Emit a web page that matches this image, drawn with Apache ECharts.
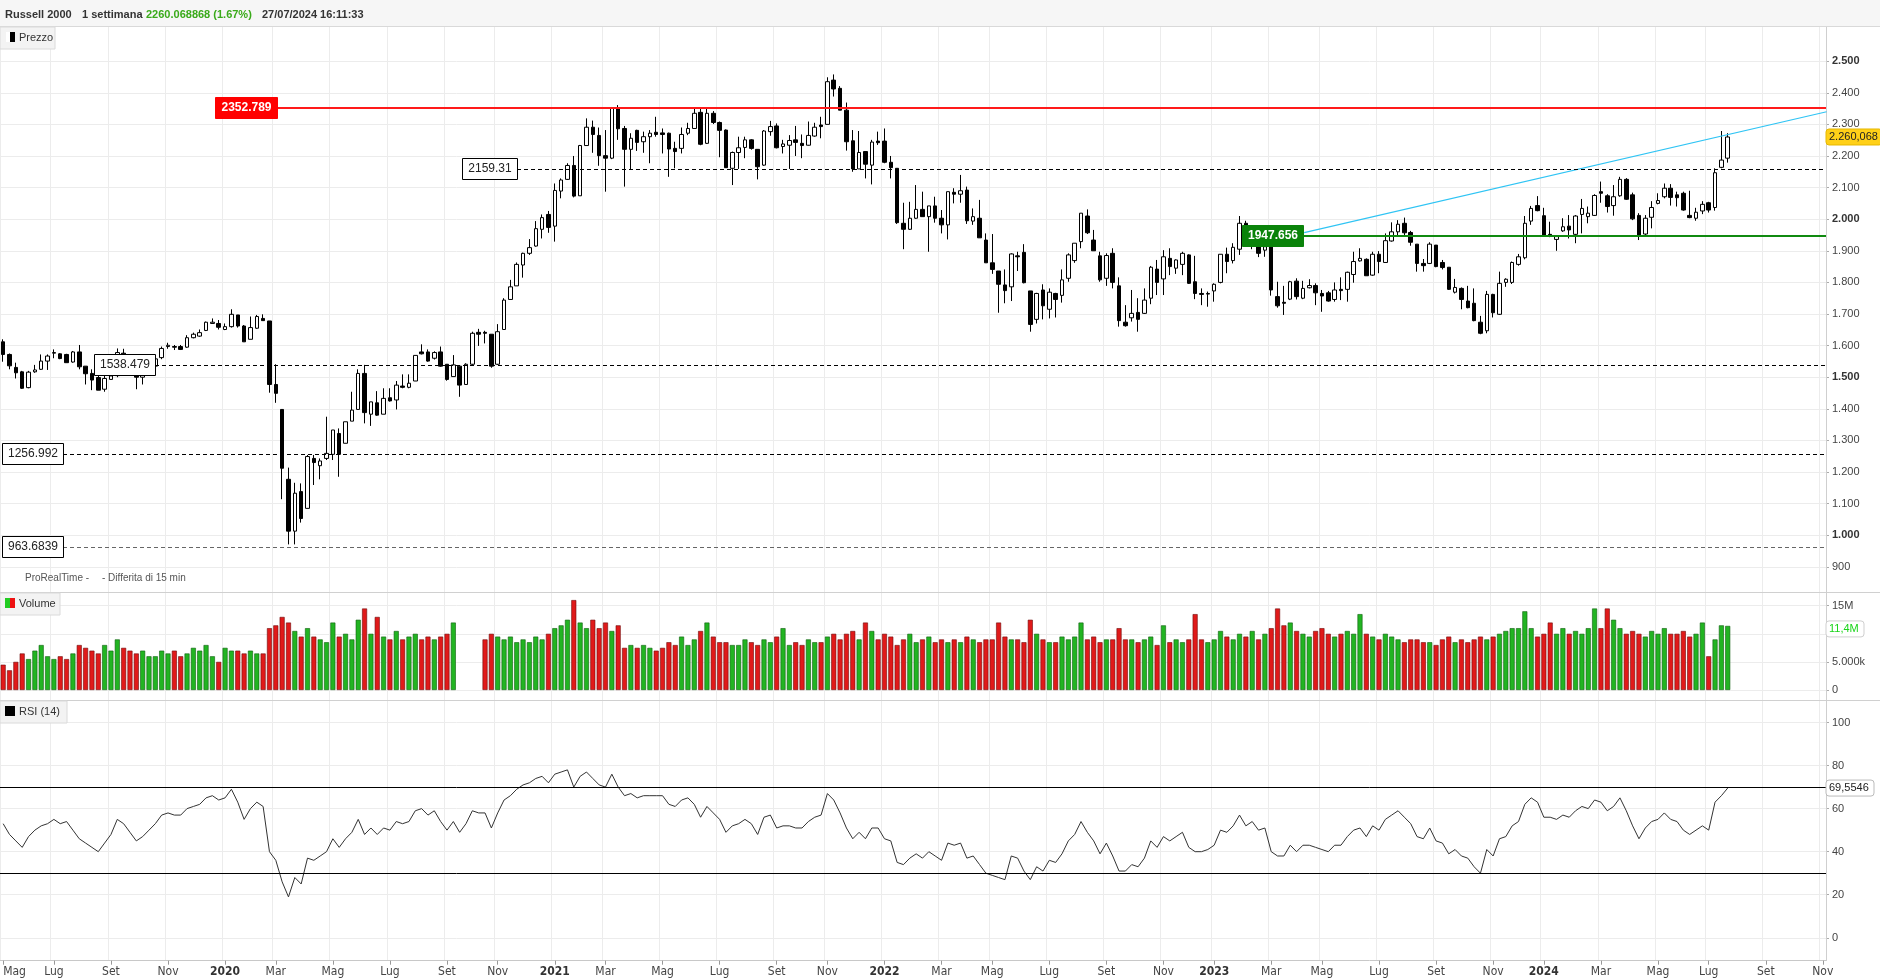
<!DOCTYPE html>
<html><head><meta charset="utf-8">
<script src="https://cdn.jsdelivr.net/npm/echarts@6/dist/echarts.min.js"></script>
<style>html,body{margin:0;padding:0;background:#fff;}#chart{width:1880px;height:979px;}</style>
</head><body><div id="chart"></div>
<script>
// ---------- DATA ----------
const firstWeek = '2019-05-06';
const totalWeeks = 288; // weekly slots shown on the axis (data + empty space up to Nov 2024)
const monthNames = ['Gen','Feb','Mar','Apr','Mag','Giu','Lug','Ago','Set','Ott','Nov','Dic'];
// weekly candles: [open, close, low, high]
const candles = [
[1612,1572,1549,1620],[1572,1536,1525,1575],[1531,1514,1496,1546],[1517,1465,1463,1520],[1467,1516,1465,1520],
[1517,1523,1514,1539],[1525,1551,1523,1572],[1551,1567,1523,1572],[1576,1578,1560,1588],[1574,1559,1557,1576],
[1572,1546,1546,1574],[1548,1580,1546,1583],[1580,1533,1525,1602],[1535,1511,1477,1535],[1512,1491,1459,1525],
[1499,1459,1459,1504],[1462,1496,1454,1504],[1493,1504,1493,1544],[1505,1578,1500,1591],[1576,1562,1552,1590],
[1562,1523,1515,1568],[1523,1500,1462,1530],[1500,1510,1477,1525],[1510,1535,1505,1545],[1535,1558,1530,1562],
[1562,1591,1557,1597],[1597,1601,1590,1609],[1597,1595,1586,1602],[1597,1588,1586,1602],[1595,1625,1593,1633],
[1625,1636,1623,1641],[1630,1641,1628,1651],[1648,1674,1646,1676],[1670,1674,1670,1686],[1670,1658,1651,1681],
[1651,1660,1649,1670],[1660,1699,1657,1715],[1697,1662,1657,1697],[1662,1612,1612,1665],[1620,1657,1620,1692],
[1655,1692,1653,1697],[1686,1679,1679,1699],[1678,1477,1451,1678],[1477,1449,1419,1541],[1398,1212,1114,1398],
[1177,1013,971,1214],[1013,1133,971,1166],[1138,1053,1040,1164],[1085,1249,1085,1254],[1243,1230,1159,1254],
[1220,1235,1177,1243],[1243,1259,1238,1375],[1256,1333,1238,1333],[1322,1256,1185,1338],[1291,1359,1291,1359],
[1361,1396,1361,1454],[1398,1512,1398,1525],[1512,1388,1354,1539],[1383,1422,1346,1422],[1419,1380,1378,1456],
[1383,1433,1383,1465],[1435,1425,1423,1465],[1428,1475,1398,1488],[1472,1468,1465,1509],[1468,1481,1465,1509],
[1488,1569,1488,1569],[1580,1574,1572,1604],[1580,1551,1549,1588],[1560,1578,1556,1582],[1580,1535,1533,1597],
[1541,1493,1489,1541],[1502,1539,1502,1570],[1535,1475,1438,1535],[1477,1541,1477,1544],[1541,1639,1539,1644],
[1642,1636,1599,1653],[1642,1639,1607,1647],[1636,1535,1530,1636],[1541,1644,1539,1668],[1651,1744,1651,1750],
[1746,1786,1746,1808],[1789,1857,1789,1863],[1855,1892,1815,1894],[1892,1910,1887,1937],[1915,1970,1913,1994],
[1968,2005,1939,2015],[2015,1974,1957,2026],[1978,2091,1929,2113],[2089,2124,2066,2129],[2126,2170,2124,2177],
[2170,2073,2069,2200],[2074,2233,2074,2235],[2233,2291,2233,2319],[2291,2268,2210,2312],[2265,2201,2169,2290],
[2201,2193,2087,2282],[2193,2353,2190,2355],[2353,2286,2251,2361],[2287,2221,2103,2295],[2221,2256,2156,2272],
[2281,2243,2216,2283],[2245,2261,2210,2277],[2261,2272,2177,2282],[2275,2268,2261,2324],[2273,2268,2208,2287],
[2272,2222,2134,2274],[2224,2214,2161,2245],[2224,2268,2208,2290],[2272,2287,2266,2305],[2287,2335,2287,2351],
[2338,2237,2234,2351],[2240,2335,2238,2351],[2335,2306,2301,2342],[2306,2281,2196,2309],[2282,2163,2163,2284],
[2161,2211,2108,2214],[2211,2226,2159,2261],[2227,2251,2193,2261],[2251,2224,2220,2253],[2221,2166,2126,2222],
[2171,2279,2169,2282],[2277,2293,2264,2311],[2295,2226,2224,2303],[2230,2238,2208,2251],[2234,2249,2159,2266],
[2251,2243,2200,2295],[2240,2233,2193,2268],[2234,2265,2233,2309],[2263,2291,2261,2305],[2298,2293,2256,2324],
[2300,2435,2300,2449],[2440,2412,2388,2458],[2414,2345,2345,2421],[2345,2245,2217,2369],[2248,2159,2150,2282],
[2159,2211,2159,2279],[2214,2174,2129,2214],[2171,2244,2110,2251],[2247,2242,2235,2277],[2247,2180,2177,2287],
[2180,2163,2129,2200],[2161,1989,1985,2161],[1987,1968,1905,2052],[1968,2003,1966,2055],[2003,2031,2001,2108],
[2031,2008,2008,2087],[2008,2042,1897,2042],[2042,2003,1989,2071],[2003,1982,1955,2029],[1982,2087,1936,2087],
[2085,2079,2050,2098],[2079,2090,2052,2140],[2092,1995,1985,2103],[1994,2008,1982,2034],[2003,1941,1941,2061],
[1934,1862,1862,1955],[1862,1841,1827,1953],[1836,1794,1704,1836],[1792,1774,1734,1841],[1786,1890,1741,1892],
[1884,1881,1836,1897],[1895,1799,1797,1921],[1773,1667,1644,1773],[1683,1765,1670,1767],[1776,1726,1683,1794],
[1715,1769,1686,1781],[1765,1746,1689,1767],[1759,1808,1736,1841],[1813,1887,1802,1892],[1869,1924,1862,1924],
[1929,2019,1908,2019],[2010,1957,1953,2031],[1934,1900,1900,1966],[1884,1808,1802,1897],[1813,1885,1789,1892],
[1892,1800,1781,1908],[1789,1679,1660,1816],[1674,1663,1660,1728],[1688,1702,1676,1776],[1705,1683,1644,1750],
[1702,1744,1700,1781],[1750,1848,1731,1852],[1842,1800,1760,1871],[1811,1881,1760,1902],[1876,1850,1823,1908],
[1845,1871,1827,1873],[1857,1892,1823,1897],[1887,1797,1795,1889],[1802,1765,1747,1884],[1765,1762,1728,1781],
[1763,1765,1723,1771],[1773,1794,1739,1797],[1800,1889,1797,1889],[1889,1866,1829,1910],[1869,1911,1860,1924],
[1905,1987,1887,2010],[1987,1920,1915,1995],[1920,1946,1905,1960],[1913,1892,1880,1925],[1902,1913,1881,1930],
[1945,1776,1758,1950],[1755,1726,1720,1802],[1737,1734,1697,1789],[1747,1802,1744,1805],[1804,1755,1746,1813],
[1750,1781,1747,1805],[1783,1790,1781,1810],[1790,1767,1728,1797],[1765,1757,1707,1776],[1767,1741,1739,1773],
[1746,1776,1739,1800],[1778,1774,1744,1816],[1778,1832,1739,1834],[1825,1866,1799,1897],[1868,1876,1866,1908],
[1873,1821,1821,1876],[1823,1889,1821,1897],[1889,1866,1829,1899],[1863,1932,1863,1955],[1931,1960,1929,1990],
[1960,1984,1950,1997],[1987,1957,1950,2005],[1958,1927,1916,1963],[1921,1860,1834,1921],[1860,1853,1834,1874],
[1860,1921,1858,1927],[1918,1850,1848,1918],[1863,1847,1841,1871],[1848,1778,1776,1848],[1769,1784,1765,1811],
[1781,1746,1715,1784],[1741,1720,1718,1789],[1734,1679,1677,1781],[1674,1639,1636,1694],[1647,1762,1639,1773],
[1762,1704,1689,1764],[1699,1797,1697,1834],[1800,1810,1786,1813],[1800,1863,1795,1866],[1857,1881,1853,1890],
[1878,1987,1873,2010],[1994,2034,1982,2042],[2043,2027,2025,2073],[2011,1950,1945,2036],[1952,1948,1943,1992],
[1936,1945,1900,1950],[1963,1976,1960,2003],[1978,1966,1939,2013],[1952,2010,1924,2013],[2015,2034,1955,2064],
[2008,2019,1987,2040],[2012,2075,2010,2079],[2087,2082,2052,2119],[2074,2040,2021,2079],[2043,2071,2011,2108],
[2074,2126,2071,2134],[2126,2063,2061,2130],[2077,2001,1997,2084],[2012,1950,1934,2019],[1953,2003,1950,2013],
[2006,2037,1971,2057],[2050,2059,2047,2082],[2071,2098,2066,2113],[2098,2069,2043,2111],[2077,2068,2040,2087],
[2082,2029,2027,2087],[2012,2005,2003,2090],[2003,2022,1995,2036],[2026,2047,2016,2057],[2052,2029,2021,2055],
[2037,2147,2027,2161],[2164,2187,2161,2279],[2193,2260.068868,2179,2272]
];
// weekly volume, millions
const volumes = [
4.5,3.5,5,6.5,5.5,7,8,6,5.5,6, 5.5,6.5,8,7.5,7,6.5,8,7,9,7.5, 7,6.5,7,6,6,7,6.5,7,6,6.5,
7.5,7,8,6,5,7.5,7,7,6.5,7, 6.5,6.5,11,11.5,13,12,10.5,9.5,11,9.5, 9,8.5,12,9.5,10,9,12.5,14.5,10,13,
9.5,9,10.5,9,9.5,10,9,9.5,9,9.5, 10,12,null,null,null,null,9,10,9.5,9, 9.5,8.5,9,8.5,9.5,9,10,11,11.5,12.5,
16,12,11,12.5,11,12,10.5,11.5,7.5,8, 7.5,8,7.5,7,7.5,8.5,8,9.5,8,9, 10.5,12,9.5,8.5,8.5,8,8,9,8.5,8,
9,8.5,9.5,11,8,8.5,8,9,8.5,8.5, 9.5,10,9,10,10.5,9,12,10.5,9,10, 9.5,8,9,10,8.5,9,9.5,8.5,9,8.5,
9,8.5,9.5,9,8.5,9,9,12,9.5,9, 9,8.5,12.5,10,9,8.5,8.5,9.5,9,9.5, 12,9,9.5,8.5,9,9,11,9,9,8.5,
9,9.5,8,11.5,8.5,9,8.5,9,13.5,9, 8.5,9,10.5,9.5,9,10,9.5,10.5,9,10, 11,14.5,11.5,12,10.5,10,9.5,10.5,11,10,
9.5,10,10.5,10,13.5,10,9.5,9,10,9.5, 9,8.5,9,9,8.5,8.5,8,9,9.5,8.5, 9,8.5,9,9.5,9,9.5,10,10.5,11,11,
14,11,9.5,10,12,10,11,10,10.5,10, 11,14.5,11,14.5,12.5,11,10,10.5,10,9.5, 10.5,10,11,10,10,10.5,9.5,10,12,6,
9,11.5,11.4
];
// RSI(14) weekly
const rsi = [
53,48,45,42,47,50,52,53,55,53, 54,50,46,44,42,40,44,48,55,53, 49,45,47,50,53,57,58,57,57,60,
61,62,65,66,64,65,69,63,55,60, 63,61,40,36,26,19,28,25,37,36, 38,40,46,42,46,49,55,48,51,48,
51,50,54,53,54,59,60,57,59,54, 50,54,49,53,59,58,58,51,58,64, 66,69,71,72,74,75,72,76,77,78,
70,75,77,74,71,70,76,70,66,67, 65,66,66,66,66,62,61,64,65,62, 56,61,58,55,49,52,53,55,53,48,
56,57,51,52,52,51,51,54,56,57, 67,64,58,51,46,49,46,51,51,46, 45,35,34,37,39,37,40,38,36,44,
43,44,37,38,34,30,29,28,27,38, 37,31,27,33,31,36,35,39,45,48, 54,49,45,39,44,38,31,31,34,33,
37,45,42,47,45,47,49,42,40,40, 41,43,50,49,52,57,52,54,50,51, 40,38,38,43,40,43,43,42,41,40,
43,43,47,50,51,47,52,50,55,57, 59,56,53,47,46,51,45,44,39,41, 38,37,33,30,41,38,46,47,52,54,
62,65,63,56,56,55,57,56,59,61, 60,64,63,59,61,65,59,52,46,51, 54,55,58,55,54,50,48,50,52,50,
63,66,69.5546
];
// horizontal levels drawn on the price panel
const levelValues = [2352.789, 2159.31, 1538.479, 1256.992, 963.6839, 1947.656];
const levelTexts  = ['2352.789','2159.31','1538.479','1256.992','963.6839','1947.656'];
// trend line anchors: [week index, price]
const trendFrom = [205.2, 1957.6];
const trendTo   = [287.6, 2340.0];
const lastPrice = 2260.068;
const lastVolume = 11.4;
const lastRsi = 69.5546;
const rsiBands = [70, 30];

// ---------- BUILD ----------
const FONT = "'Liberation Sans', Arial, sans-serif";
const NARROW = "'Liberation Sans Narrow','Arial Narrow','DejaVu Sans Condensed', sans-serif";
const dates = [];
const t0 = Date.UTC(2019, 4, 6);
for (let i = 0; i < totalWeeks; i++) dates.push(new Date(t0 + i * 7 * 86400000).toISOString().slice(0, 10));
const tickSet = new Set();
for (let i = 0; i < dates.length; i++) {
  const m = +dates[i].slice(5, 7) - 1;
  const pm = i ? +dates[i - 1].slice(5, 7) - 1 : -1;
  if (m !== pm && m % 2 === 0) tickSet.add(i);
}
const tickFn = (idx) => tickSet.has(idx);
const fmtThousands = v => v >= 1000 ? Math.floor(v / 1000) + '.' + String(v % 1000).padStart(3, '0') : String(v);

const LEFT = 0, RIGHT = 54;
const chart = echarts.init(document.getElementById('chart'), null, {renderer: 'canvas'});

const hiddenX = (gi) => ({type: 'category', gridIndex: gi, data: dates, boundaryGap: true, show: false});
const gridBase = {left: LEFT, right: RIGHT, containLabel: false, outerBoundsMode: 'none'};
const option = {
  animation: false,
  backgroundColor: '#ffffff',
  grid: [
    Object.assign({top: 29.55, height: 568.9}, gridBase),
    Object.assign({top: 577.6, height: 112.4}, gridBase),
    Object.assign({top: 722.5, height: 215.3}, gridBase),
    Object.assign({top: 27, bottom: 18.3}, gridBase)
  ],
  xAxis: [
    hiddenX(0), hiddenX(1), hiddenX(2),
    {
      type: 'category', gridIndex: 3, data: dates, boundaryGap: true, position: 'bottom',
      axisLine: {show: true, lineStyle: {color: '#c8c8c8'}},
      axisTick: {show: true, interval: tickFn, alignWithLabel: true, length: 4, lineStyle: {color: '#999'}},
      axisLabel: {
        show: true, interval: tickFn, color: '#444', fontSize: 12, fontFamily: NARROW, margin: 5,
        alignMinLabel: 'left', hideOverlap: false,
        formatter: (val) => { const m = +val.slice(5, 7) - 1; return m === 0 ? '{y|' + val.slice(0, 4) + '}' : monthNames[m]; },
        rich: {y: {fontWeight: 'bold', color: '#333', fontSize: 12, fontFamily: NARROW}}
      },
      splitLine: {show: true, interval: tickFn, lineStyle: {color: '#ececec', width: 1}}
    }
  ],
  yAxis: [
    {
      type: 'value', gridIndex: 0, position: 'right', min: 800, max: 2600, interval: 100,
      axisLine: {show: false}, axisTick: {show: true, length: 3, lineStyle: {color: '#aaa'}},
      axisLabel: {showMinLabel: false, showMaxLabel: false, color: '#444', fontSize: 11, fontFamily: FONT, margin: 6,
        formatter: v => v % 500 === 0 ? '{b|' + fmtThousands(v) + '}' : fmtThousands(v),
        rich: {b: {fontWeight: 'bold', color: '#333', fontSize: 11, fontFamily: FONT}}},
      splitLine: {show: true, showMinLine: false, showMaxLine: false, lineStyle: {color: '#ececec'}}
    },
    {
      type: 'value', gridIndex: 1, position: 'right', min: 0, max: 20, interval: 5,
      axisLine: {show: false}, axisTick: {show: true, length: 3, lineStyle: {color: '#aaa'}},
      axisLabel: {showMaxLabel: false, color: '#444', fontSize: 11, fontFamily: FONT, margin: 6,
        formatter: v => v === 0 ? '0' : (v === 5 ? '5.000k' : v + 'M')},
      splitLine: {show: true, showMaxLine: false, lineStyle: {color: '#ececec'}}
    },
    {
      type: 'value', gridIndex: 2, position: 'right', min: 0, max: 100, interval: 20,
      axisLine: {show: false}, axisTick: {show: true, length: 3, lineStyle: {color: '#aaa'}},
      axisLabel: {color: '#444', fontSize: 11, fontFamily: FONT, margin: 6},
      splitLine: {show: true, lineStyle: {color: '#ececec'}}
    },
    {type: 'value', gridIndex: 3, show: false}
  ],
  series: [
    {
      type: 'candlestick', xAxisIndex: 0, yAxisIndex: 0, data: candles, barWidth: 4,
      itemStyle: {color: '#ffffff', color0: '#000000', borderColor: '#000000', borderColor0: '#000000', borderWidth: 1}
    },
    {
      type: 'bar', xAxisIndex: 1, yAxisIndex: 1, barWidth: 5,
      data: volumes.map((v, i) => v == null ? null : {
        value: v,
        itemStyle: candles[i][1] >= candles[i][0]
          ? {color: '#22b422', borderColor: '#0d5e0d', borderWidth: 0.6}
          : {color: '#e01a1a', borderColor: '#6e0a0a', borderWidth: 0.6}
      })
    },
    {
      type: 'line', xAxisIndex: 2, yAxisIndex: 2, data: rsi, showSymbol: false, symbol: 'none',
      lineStyle: {color: '#333', width: 1},
      markLine: {silent: true, symbol: 'none', label: {show: false},
        lineStyle: {color: '#000', width: 1, type: 'solid'},
        data: rsiBands.map(v => ({yAxis: v}))}
    }
  ]
};
chart.setOption(option);

// ---------- OVERLAYS (positions via the chart's own scales) ----------
const plotRight = 1880 - RIGHT;
const yP = v => chart.convertToPixel({yAxisIndex: 0}, v);
const yV = v => chart.convertToPixel({yAxisIndex: 1}, v);
const yR = v => chart.convertToPixel({yAxisIndex: 2}, v);
const x0 = chart.convertToPixel({xAxisIndex: 0}, dates[0]);
const x1 = chart.convertToPixel({xAxisIndex: 0}, dates[1]);
const xAt = i => x0 + (x1 - x0) * i;

const g = [];
// header
g.push({type: 'rect', shape: {x: 0, y: 0, width: 1880, height: 26}, style: {fill: '#f6f6f6'}, z: 10});
g.push({type: 'line', shape: {x1: 0, y1: 26.5, x2: 1880, y2: 26.5}, style: {stroke: '#d9d9d9', lineWidth: 1}, z: 11});
const hdr = [
  {x: 5, t: 'Russell 2000', c: '#333'},
  {x: 82, t: '1 settimana', c: '#333'},
  {x: 146, t: '2260.068868 (1.67%)', c: '#3aaa1a'},
  {x: 262, t: '27/07/2024 16:11:33', c: '#333'}
];
hdr.forEach(h => g.push({type: 'text', x: h.x, y: 15, z: 12,
  style: {text: h.t, fill: h.c, font: 'bold 11px ' + FONT, textVerticalAlign: 'middle'}}));

// panel separators and right axis line
[592.5, 700.5].forEach(y => g.push({type: 'line', shape: {x1: 0, y1: y, x2: 1880, y2: y}, style: {stroke: '#d0d0d0', lineWidth: 1}, z: 5}));
g.push({type: 'line', shape: {x1: plotRight + 0.5, y1: 27, x2: plotRight + 0.5, y2: 961}, style: {stroke: '#cfcfcf', lineWidth: 1}, z: 5});

// legend boxes
function legendBox(y, w, label, icon) {
  g.push({type: 'rect', shape: {x: 0, y: y, width: w, height: 22}, style: {fill: '#f3f3f3', stroke: '#dadada', lineWidth: 1}, z: 20});
  icon.forEach(r => g.push({type: 'rect', shape: r.s, style: {fill: r.f}, z: 21}));
  g.push({type: 'text', x: 19, y: y + 11, z: 21, style: {text: label, fill: '#333', font: '11px ' + FONT, textVerticalAlign: 'middle'}});
}
legendBox(27, 55, 'Prezzo', [{s: {x: 6, y: 32, width: 4, height: 10}, f: '#fff'}, {s: {x: 10, y: 32, width: 5, height: 10}, f: '#000'}]);
legendBox(593, 60, 'Volume', [{s: {x: 5, y: 598, width: 5, height: 10}, f: '#22cc22'}, {s: {x: 10, y: 598, width: 5, height: 10}, f: '#ee1111'}]);
legendBox(701, 67, 'RSI (14)', [{s: {x: 5, y: 706, width: 10, height: 10}, f: '#000'}]);

g.push({type: 'text', x: 25, y: 578, z: 20, style: {text: 'ProRealTime -', fill: '#555', font: '10px ' + FONT, textVerticalAlign: 'middle'}});
g.push({type: 'text', x: 102, y: 578, z: 20, style: {text: '- Differita di 15 min', fill: '#555', font: '10px ' + FONT, textVerticalAlign: 'middle'}});

// level lines with their boxes
const levelStyle = [
  {bx: 215, bw: 62, fill: '#ff0000', stroke: '#ff0000', txt: '#fff', bold: true, line: '#ff1a1a', lw: 2, dash: null},
  {bx: 462, bw: 55, fill: '#fff', stroke: '#000', txt: '#222', bold: false, line: '#000', lw: 1, dash: [4, 3]},
  {bx: 94, bw: 61, fill: '#fff', stroke: '#000', txt: '#222', bold: false, line: '#000', lw: 1, dash: [4, 3]},
  {bx: 2, bw: 61, fill: '#fff', stroke: '#000', txt: '#222', bold: false, line: '#000', lw: 1, dash: [4, 3]},
  {bx: 2, bw: 61, fill: '#fff', stroke: '#000', txt: '#222', bold: false, line: '#666', lw: 1, dash: [4, 3]},
  {bx: 1242, bw: 61, fill: '#0a830a', stroke: '#0a830a', txt: '#fff', bold: true, line: '#108a10', lw: 2, dash: null}
];
levelValues.forEach((v, k) => {
  const s = levelStyle[k];
  const y = Math.round(yP(v)) + (s.lw === 1 ? 0.5 : 0);
  g.push({type: 'line', shape: {x1: s.bx + s.bw, y1: y, x2: plotRight, y2: y},
    style: {stroke: s.line, lineWidth: s.lw, lineDash: s.dash}, z: 30});
  g.push({type: 'rect', shape: {x: s.bx + 0.5, y: Math.round(yP(v)) - 10.5, width: s.bw, height: 21},
    style: {fill: s.fill, stroke: s.stroke, lineWidth: 1}, z: 31});
  g.push({type: 'text', x: s.bx + s.bw / 2 + 0.5, y: yP(v), z: 32,
    style: {text: levelTexts[k], fill: s.txt, font: (s.bold ? 'bold ' : '') + '12px ' + FONT, textAlign: 'center', textVerticalAlign: 'middle'}});
});

// trend line
g.push({type: 'line', shape: {x1: xAt(trendFrom[0]), y1: yP(trendFrom[1]), x2: xAt(trendTo[0]), y2: yP(trendTo[1])},
  style: {stroke: '#2fc4f4', lineWidth: 1.2}, z: 29});

// right-side value badges
function badge(y, w, text, fill, stroke, color, bold) {
  g.push({type: 'rect', shape: {x: plotRight, y: y - 8, width: w, height: 16, r: 3}, style: {fill: fill, stroke: stroke, lineWidth: 1}, z: 40});
  g.push({type: 'text', x: plotRight + 3, y: y, z: 41, style: {text: text, fill: color, font: (bold ? 'bold ' : '') + '11px ' + FONT, textVerticalAlign: 'middle'}});
}
badge(yP(lastPrice), 56, fmtThousands(Math.floor(lastPrice)) + ',' + String(Math.round((lastPrice % 1) * 1000)).padStart(3, '0'), '#ffd018', '#e6b800', '#222', false);
badge(yV(lastVolume) + 3, 38, String(lastVolume).replace('.', ',') + 'M', '#fff', '#cfcfcf', '#19d419', false);
badge(yR(lastRsi), 48, String(lastRsi).replace('.', ','), '#fff', '#bbb', '#222', false);

chart.setOption({graphic: g});
</script>
</body></html>
